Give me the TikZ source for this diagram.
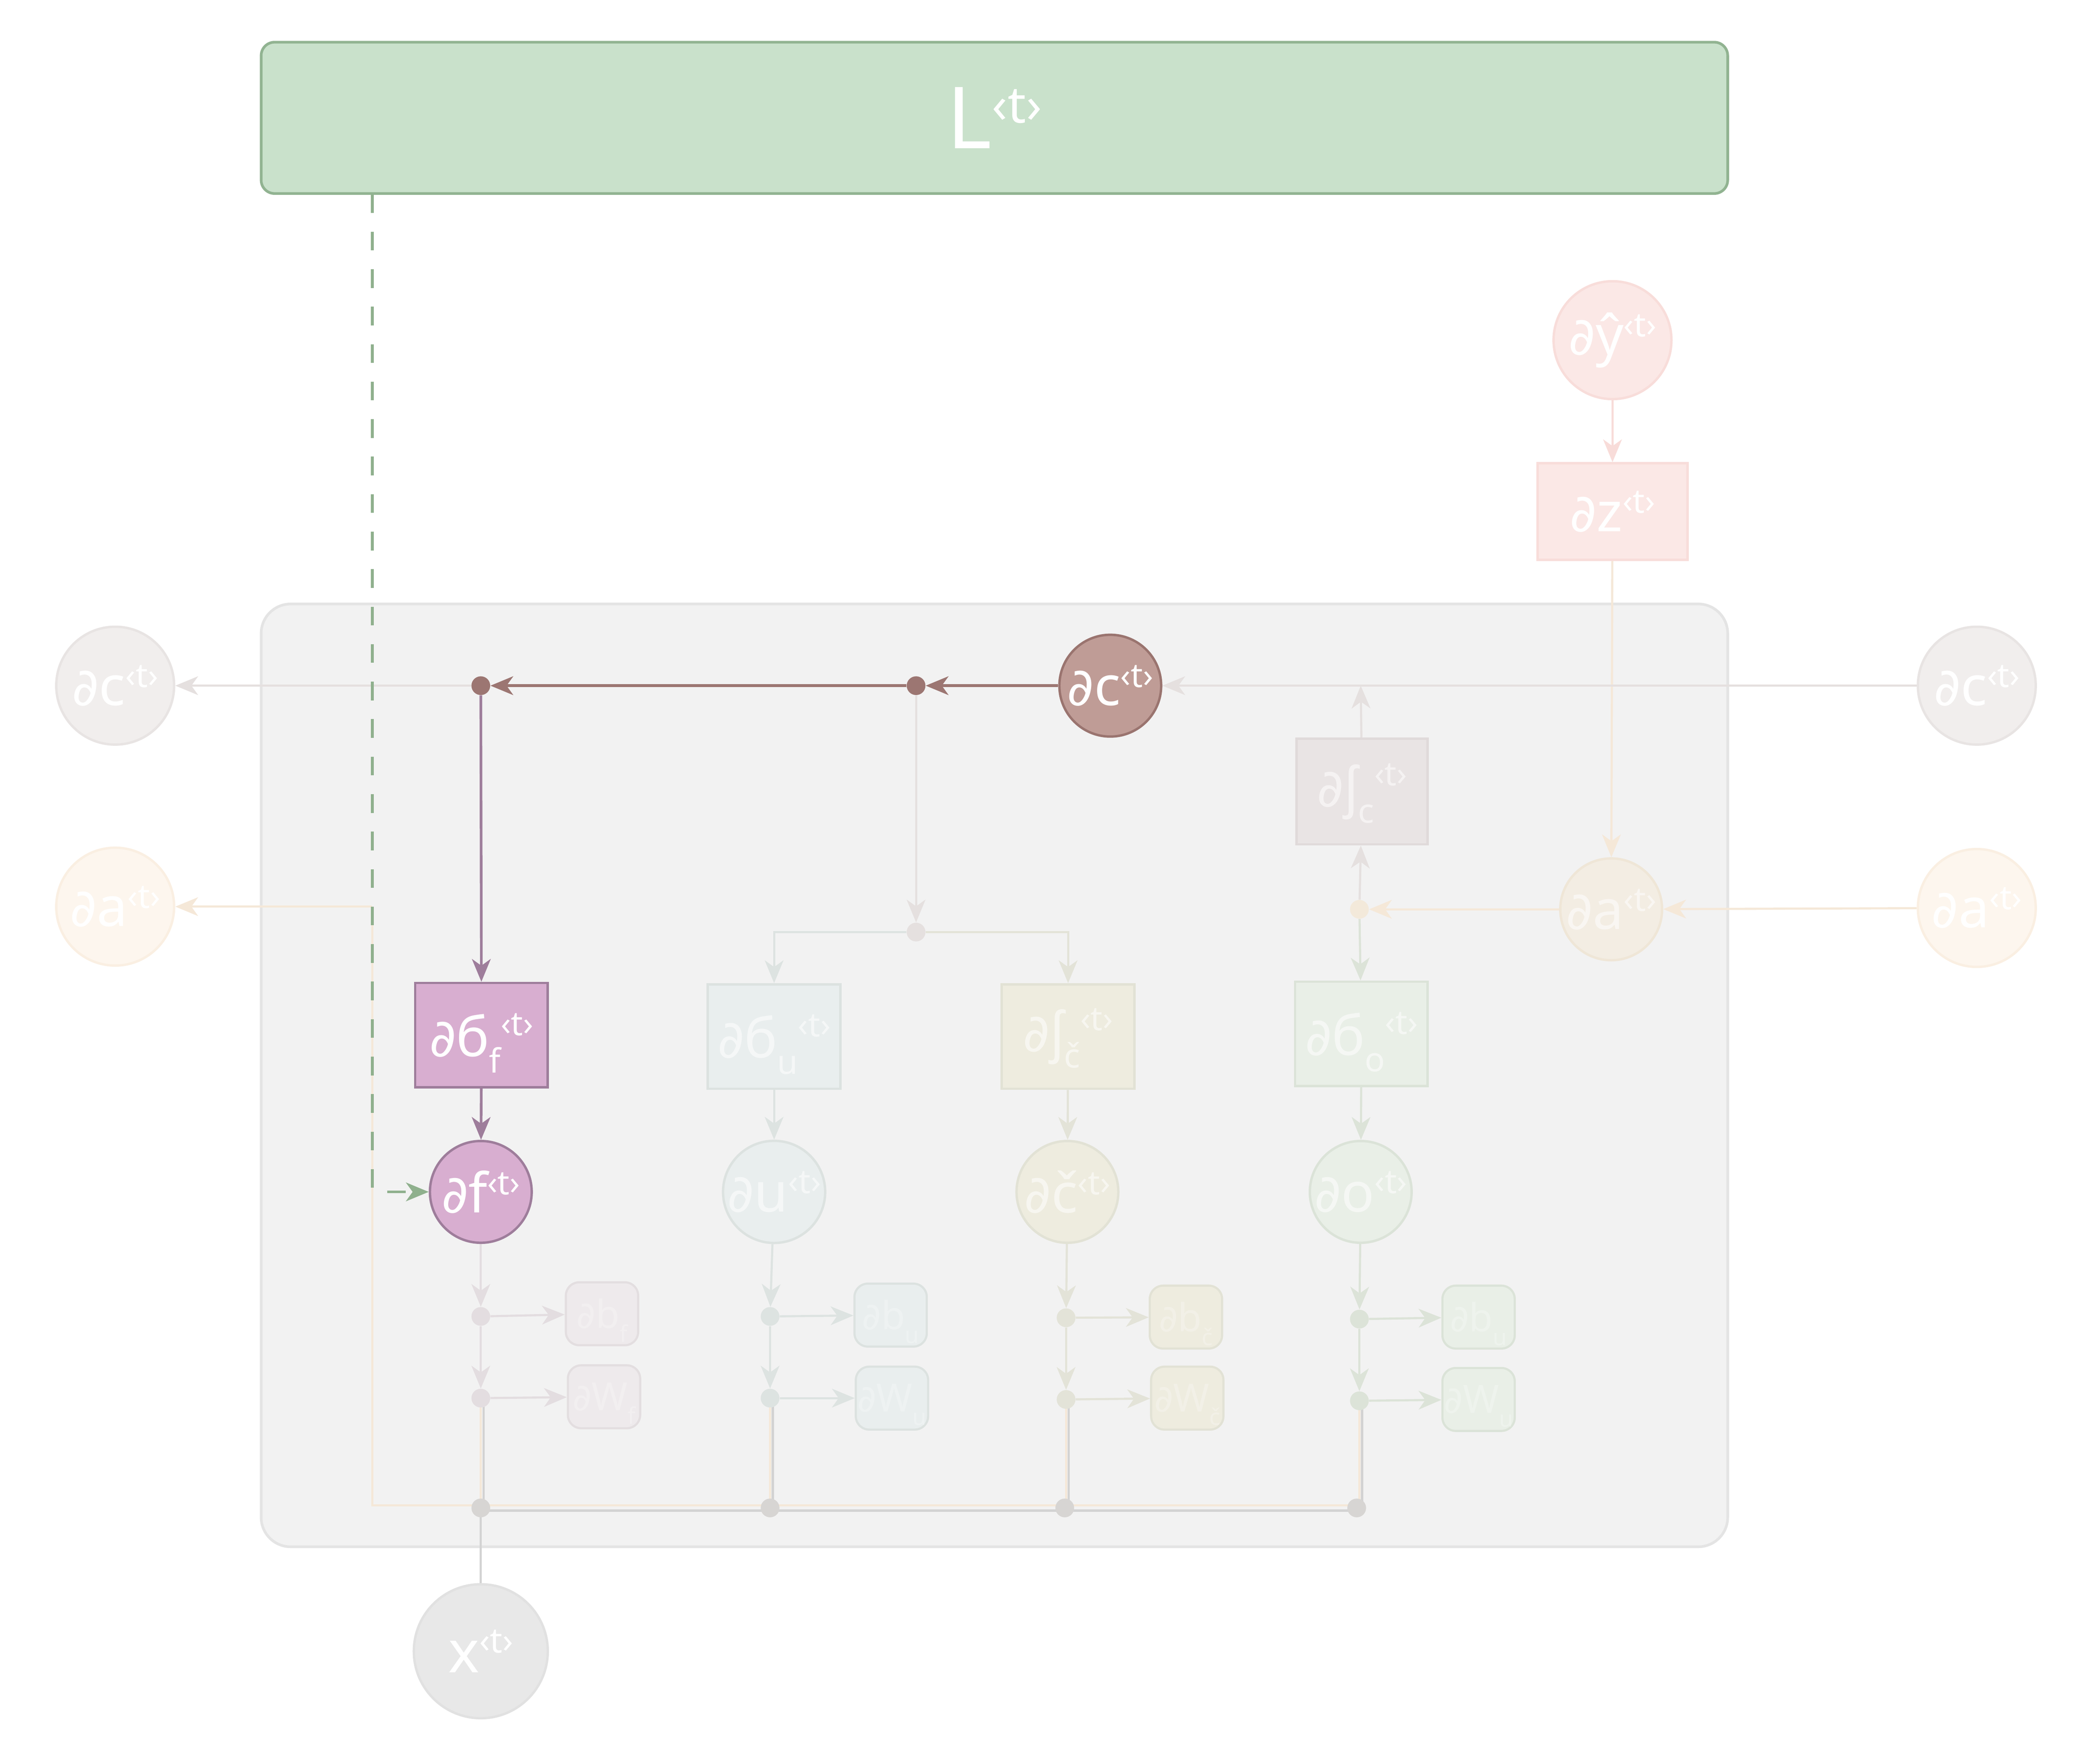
\documentclass[tikz,border=0pt]{standalone}
\usepackage{fontspec}
\setmainfont{Noto Sans}
\newfontfamily\pdfont[Scale=0.95]{DejaVu Sans}
\usetikzlibrary{arrows.meta}
\pgfdeclarelayer{back}
\pgfdeclarelayer{lines}
\pgfsetlayers{back,lines,main}

\definecolor{Lfill}{HTML}{C9E1CB}
\definecolor{Ldraw}{HTML}{91B391}
\definecolor{cellfill}{HTML}{F2F2F2}
\definecolor{celldraw}{HTML}{E4E4E4}
\definecolor{dcfill}{HTML}{BF9C96}
\definecolor{dcdraw}{HTML}{9A746F}
\definecolor{brownline}{HTML}{9C7672}
\definecolor{ffill}{HTML}{D8AED0}
\definecolor{fdraw}{HTML}{9E7D9B}
\definecolor{ghostc}{HTML}{F1EEED}
\definecolor{ghostcd}{HTML}{E8E4E3}
\definecolor{ghosta}{HTML}{FDF6EE}
\definecolor{ghostad}{HTML}{FAEFE2}
\definecolor{yfill}{HTML}{FBE8E6}
\definecolor{ydraw}{HTML}{F8DDDA}
\definecolor{ufill}{HTML}{E9EEEE}
\definecolor{udraw}{HTML}{DCE2E0}
\definecolor{ctfill}{HTML}{EEECDF}
\definecolor{ctdraw}{HTML}{E2E2D5}
\definecolor{ofill}{HTML}{E9EFE7}
\definecolor{odraw}{HTML}{DBE3D8}
\definecolor{jcfill}{HTML}{E9E4E4}
\definecolor{jcdraw}{HTML}{E0DADA}
\definecolor{afill}{HTML}{F3EDE3}
\definecolor{adraw}{HTML}{EFE6D7}
\definecolor{smf}{HTML}{EEEAEC}
\definecolor{smfd}{HTML}{E3DEE0}
\definecolor{xfill}{HTML}{E8E8E8}
\definecolor{xdraw}{HTML}{E1E1E1}
\definecolor{lgrey}{HTML}{E5E0DF}
\definecolor{lorange}{HTML}{F5E8D8}
\definecolor{lpink}{HTML}{F8DCD9}
\definecolor{lblue}{HTML}{DDE3E1}
\definecolor{lolive}{HTML}{E3E3D8}
\definecolor{lgreen}{HTML}{DCE3D8}
\definecolor{lfline}{HTML}{E3DDE0}
\definecolor{gline}{HTML}{D3D3D3}
\definecolor{dashgreen}{HTML}{8FB08D}
\definecolor{dotgrey}{HTML}{D7D5D3}
\definecolor{p4col}{HTML}{F3E9DA}

\newcommand{\pd}{{\pdfont ∂}}
\newcommand{\tsup}{\raisebox{0.33em}{\fontsize{25}{25}\selectfont ‹t›}}
\newcommand{\tsubsup}[1]{\smash{\raisebox{-0.3em}{\fontsize{25}{25}\selectfont #1}}\raisebox{0.38em}{\fontsize{25}{25}\selectfont ‹t›}}
\newcommand{\psub}[1]{\smash{\raisebox{-0.35em}{\fontsize{17}{17}\selectfont #1}}}

\tikzset{
  every node/.style={text=white, inner sep=0pt, align=center},
  bigc/.style={circle, minimum size=88pt, line width=1.8pt, font=\fontsize{41}{41}\selectfont},
  midc/.style={circle, minimum size=76pt, line width=1.8pt, font=\fontsize{41}{41}\selectfont},
  gatebox/.style={rectangle, minimum width=99pt, minimum height=78pt, line width=1.8pt, font=\fontsize{41}{41}\selectfont},
  smallbox/.style={rectangle, rounded corners=10pt, minimum width=54pt, minimum height=47pt, line width=1.6pt, font=\fontsize{29}{29}\selectfont, text opacity=0.25},
  jn/.style={circle, minimum size=14pt},
  faded/.style={text opacity=0.55},
  arr/.style={-{Stealth[length=17pt,width=14pt,inset=5pt]}, line width=1.6pt},
  pln/.style={line width=1.6pt},
}

\begin{document}
\begin{tikzpicture}[x=1pt,y=-1pt]
\useasboundingbox (0,0) rectangle (1568,1306.7);

% main box and cell
\node[rectangle, rounded corners=10pt, minimum width=1095pt, minimum height=113pt, fill=Lfill, draw=Ldraw, line width=2pt,
      font=\fontsize{64}{64}\selectfont] (L) at (742.5,88) {L\raisebox{0.3em}{\fontsize{38}{38}\selectfont ‹t›}};
\begin{pgfonlayer}{back}
\node[rectangle, rounded corners=22pt, minimum width=1095pt, minimum height=704pt, fill=cellfill, draw=celldraw, line width=2pt] (cell) at (742.5,803) {};
\end{pgfonlayer}

% outside nodes
\node[bigc, fill=ghostc, draw=ghostcd] (ldC) at (86,512) {\pd c\tsup};
\node[bigc, fill=ghosta, draw=ghostad] (ldA) at (86,677) {\pd a\tsup};
\node[bigc, fill=ghostc, draw=ghostcd] (rdC) at (1476,512) {\pd c\tsup};
\node[bigc, fill=ghosta, draw=ghostad] (rdA) at (1476,678) {\pd a\tsup};
\node[bigc, fill=yfill, draw=ydraw] (dY) at (1204,254) {\pd ŷ\tsup};
\node[rectangle, minimum width=112pt, minimum height=72pt, fill=yfill, draw=ydraw, line width=1.8pt, font=\fontsize{41}{41}\selectfont] (dZ) at (1204,382) {\pd z\tsup};
\node[circle, minimum size=100pt, fill=xfill, draw=xdraw, line width=1.8pt, font=\fontsize{44}{44}\selectfont] (x) at (359,1233) {x\raisebox{0.33em}{\fontsize{26}{26}\selectfont ‹t›}};

% inner circles
\node[midc, fill=dcfill, draw=dcdraw] (dC) at (829,512) {\pd c\tsup};
\node[midc, fill=ffill, draw=fdraw] (dF) at (359,890) {\pd f\tsup};
\node[midc, faded, fill=ufill, draw=udraw] (dU) at (578,890) {\pd u\tsup};
\node[midc, faded, fill=ctfill, draw=ctdraw] (dCt) at (797,890) {\pd č\tsup};
\node[midc, faded, fill=ofill, draw=odraw] (dO) at (1016,890) {\pd o\tsup};
\node[midc, faded, fill=afill, draw=adraw] (dA) at (1203,679) {\pd a\tsup};

% gate boxes
\node[gatebox, fill=ffill, draw=fdraw] (sF) at (359.5,773) {\pd б\tsubsup{f}};
\node[gatebox, faded, fill=ufill, draw=udraw] (sU) at (578,774) {\pd б\tsubsup{u}};
\node[gatebox, faded, fill=ctfill, draw=ctdraw] (jCt) at (797.5,774) {\pd ʃ\tsubsup{č}};
\node[gatebox, faded, fill=ofill, draw=odraw] (sO) at (1016.5,772) {\pd б\tsubsup{o}};
\node[gatebox, faded, fill=jcfill, draw=jcdraw, minimum width=98pt, minimum height=79pt] (jC) at (1017,591) {\pd ʃ\tsubsup{c}};

% junction dots
\node[jn, fill=brownline] (p1) at (684,512) {};
\node[jn, fill=brownline] (p2) at (359,512) {};
\node[jn, fill=lgrey] (p3) at (684,696) {};
\node[jn, fill=p4col] (p4) at (1015,679) {};
\coordinate (cJ) at (1016,512);

% column dots and parameter boxes
\node[jn, fill=lfline] (f1) at (359,983) {};
\node[jn, fill=lfline] (f2) at (359,1044) {};
\node[jn, fill=lblue] (u1) at (575,983) {};
\node[jn, fill=lblue] (u2) at (575,1044) {};
\node[jn, fill=lolive] (c1) at (796,984) {};
\node[jn, fill=lolive] (c2) at (796,1045) {};
\node[jn, fill=lgreen] (o1) at (1015,985) {};
\node[jn, fill=lgreen] (o2) at (1015,1046) {};

\node[smallbox, fill=smf, draw=smfd] (fb) at (449.5,981) {\pd b\psub{f}};
\node[smallbox, fill=smf, draw=smfd] (fW) at (451,1043) {\pd W\psub{f}};
\node[smallbox, fill=ufill, draw=udraw] (ub) at (665,982) {\pd b\psub{u}};
\node[smallbox, fill=ufill, draw=udraw] (uW) at (666,1044) {\pd W\psub{u}};
\node[smallbox, fill=ctfill, draw=ctdraw] (cb) at (885.5,983.5) {\pd b\psub{č}};
\node[smallbox, fill=ctfill, draw=ctdraw] (cW) at (886.5,1044) {\pd W\psub{č}};
\node[smallbox, fill=ofill, draw=odraw] (ob) at (1104,983.5) {\pd b\psub{u}};
\node[smallbox, fill=ofill, draw=odraw] (oW) at (1104,1045) {\pd W\psub{u}};

\node[jn, fill=dotgrey] (b1) at (359,1126) {};
\node[jn, fill=dotgrey] (b2) at (575,1126) {};
\node[jn, fill=dotgrey] (b3) at (795,1126) {};
\node[jn, fill=dotgrey] (b4) at (1013,1126) {};

\coordinate (gs) at (278,145);
\coordinate (aL) at (278,677);
\coordinate (aB) at (278,1124);
\coordinate (aR) at (1015,1124);
\coordinate (gR) at (1017,1128);
\coordinate (gL) at (361,1128);

\begin{pgfonlayer}{lines}
% forward grey lines (faded)
\draw[pln, gline] (x.north) -- (b1.center);
\draw[pln, gline] (361,1044) -- (gL) -- (gR) -- (1017,1046);
\draw[pln, gline] (577,1044) -- (577,1128);
\draw[pln, gline] (798,1045) -- (798,1128);
% orange return path
\draw[pln, lorange] (f2.center) -- (359,1124);
\draw[pln, lorange] (u2.center) -- (575,1124);
\draw[pln, lorange] (c2.center) -- (796,1124);
\draw[pln, lorange] (o2.center) -- (aR) -- (aB) -- (aL);
\draw[arr, lorange] (aL) -- (ldA);
% top
\draw[arr, lpink] (dY) -- (dZ);
\draw[arr, lorange] (dZ) -- (dA);
\draw[arr, lgrey] (rdC) -- (dC);
\draw[arr, brownline, line width=2pt] (dC) -- (p1);
\draw[arr, brownline, line width=2pt] (p1) -- (p2);
\draw[arr, lgrey] (p2) -- (ldC);
\draw[arr, fdraw, line width=2pt] (p2) -- (sF);
\draw[arr, fdraw, line width=2pt] (sF) -- (dF);
\draw[arr, lgrey] (p1) -- (p3);
\draw[arr, lblue] (p3) -| (sU);
\draw[arr, lolive] (p3) -| (jCt);
\draw[arr, lblue] (sU) -- (dU);
\draw[arr, lolive] (jCt) -- (dCt);
\draw[arr, lgreen] (sO) -- (dO);
\draw[arr, lorange] (rdA) -- (dA);
\draw[arr, lorange] (dA) -- (p4);
\draw[arr, lgrey] (p4) -- (jC);
\draw[arr, lgreen] (p4) -- (sO);
\draw[arr, lgrey] (jC) -- (cJ);
% columns
\draw[arr, lfline] (dF) -- (f1);
\draw[arr, lfline] (f1) -- (f2);
\draw[arr, lfline] (f1) -- (fb);
\draw[arr, lfline] (f2) -- (fW);
\draw[arr, lblue] (dU) -- (u1);
\draw[arr, lblue] (u1) -- (u2);
\draw[arr, lblue] (u1) -- (ub);
\draw[arr, lblue] (u2) -- (uW);
\draw[arr, lolive] (dCt) -- (c1);
\draw[arr, lolive] (c1) -- (c2);
\draw[arr, lolive] (c1) -- (cb);
\draw[arr, lolive] (c2) -- (cW);
\draw[arr, lgreen] (dO) -- (o1);
\draw[arr, lgreen] (o1) -- (o2);
\draw[arr, lgreen] (o1) -- (ob);
\draw[arr, lgreen] (o2) -- (oW);
% dashed loss link
\draw[dashgreen, line width=2pt, dash pattern=on 14pt off 14pt, -{Stealth[length=17pt,width=14pt,inset=5pt]}] (gs) |- (dF);
\end{pgfonlayer}
\end{tikzpicture}
\end{document}
